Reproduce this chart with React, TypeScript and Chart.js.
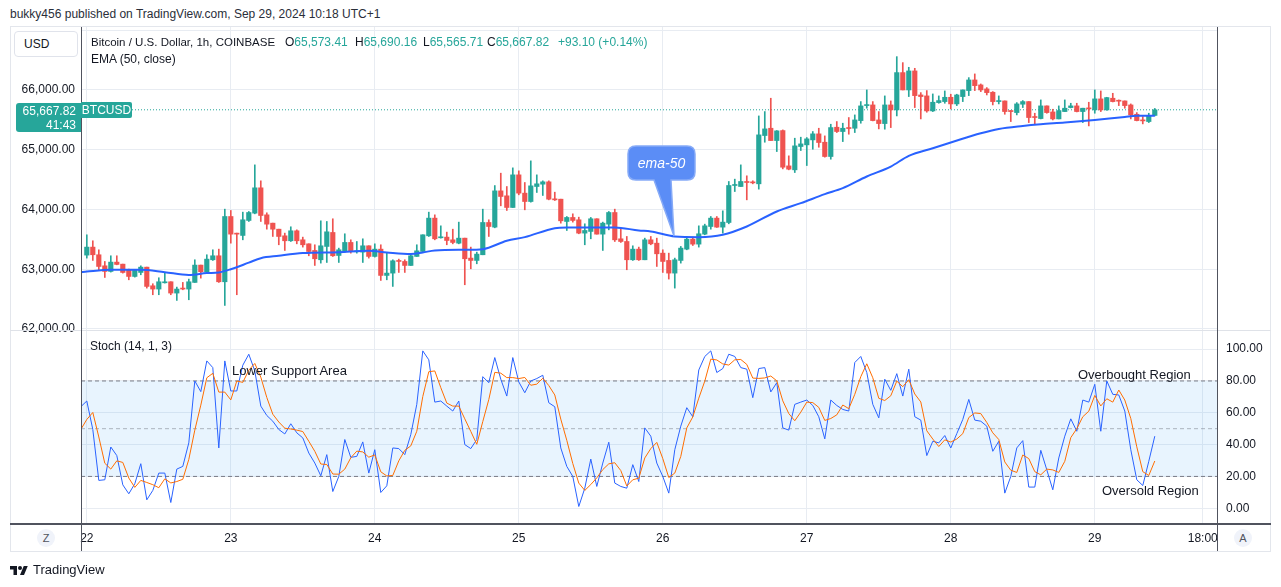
import React, { useEffect, useRef } from "react";
import { Chart, registerables } from "chart.js";

Chart.register(...registerables);

const FONT = "'Liberation Sans', Arial, Helvetica, sans-serif";

// Hourly BTC/USD candles, index 0 = Sep 22 00:00 (UTC+1)
const opens = [
  63236, 63370, 63242, 63057, 62963, 63119, 63085, 62991, 62879, 62946,
  63035, 62723, 62668, 62773, 62790, 62601, 62679, 62668, 62779, 63069,
  62957, 63158, 63225, 62790, 63882, 63598, 63565, 63816, 63938, 64362,
  63910, 63771, 63670, 63559, 63476, 63643, 63492, 63425, 63314, 63158,
  63381, 63615, 63230, 63297, 63448, 63292, 63286, 63392, 63214, 63336,
  62896, 62935, 63141, 63130, 63063, 63214, 63297, 63559, 63855, 63526,
  63537, 63492, 63436, 63520, 63186, 63147, 63242, 63782, 63704, 64311,
  64228, 64033, 64579, 64273, 64133, 64384, 64423, 64462, 64172, 64172,
  63799, 63866, 63827, 63604, 63632, 63844, 63587, 63754, 63949, 63509,
  63464, 63158, 63336, 63158, 63492, 63436, 63269, 63147, 62935, 63147,
  63336, 63503, 63420, 63587, 63715, 63855, 63704, 63782, 64401, 64384,
  64468, 64457, 64429, 65237, 65359, 65153, 65320, 64729, 64663, 65053,
  65081, 65164, 65265, 65125, 64886, 65376, 65304, 65365, 65359, 65487,
  65738, 65749, 65498, 65437, 65749, 65666, 66290, 66000, 66318, 65916,
  65900, 65649, 65788, 65805, 65877, 65766, 65889, 65989, 66167, 66084,
  66017, 65961, 65805, 65816, 65649, 65621, 65761, 65805, 65549, 65521,
  65733, 65632, 65515, 65638, 65705, 65733, 65638, 65694, 65666, 65850,
  65666, 65861, 65822, 65816, 65749, 65593, 65498, 65471, 65573.41,
];
const highs = [
  63576, 63476, 63325, 63130, 63225, 63225, 63085, 63002, 62991, 63057,
  63035, 62757, 62857, 62935, 62790, 62701, 62779, 62835, 63158, 63069,
  63242, 63325, 63336, 64005, 63983, 63604, 63955, 63966, 64746, 64479,
  63944, 63771, 63670, 63604, 63710, 63659, 63537, 63425, 63409, 63810,
  63799, 63844, 63353, 63593, 63492, 63464, 63509, 63392, 63425, 63409,
  63269, 63158, 63169, 63158, 63242, 63409, 63576, 63955, 63910, 63726,
  63621, 63670, 63788, 63520, 63370, 63286, 64005, 63827, 64400, 64607,
  64384, 64696, 64646, 64451, 64813, 64579, 64479, 64479, 64289, 64172,
  63882, 63927, 63871, 63760, 63866, 63844, 63788, 63966, 64005, 63670,
  63548, 63392, 63370, 63520, 63548, 63520, 63325, 63269, 63186, 63381,
  63548, 63537, 63726, 63754, 63882, 63882, 63977, 64468, 64507, 64746,
  64563, 64480, 65565, 65638, 65861, 65320, 65331, 64897, 65192, 65209,
  65203, 65304, 65359, 65231, 65426, 65471, 65443, 65538, 65582, 65805,
  66000, 65805, 65638, 65900, 65816, 66557, 66457, 66379, 66362, 65955,
  65989, 65933, 65900, 65983, 65928, 65928, 66000, 66206, 66268, 66100,
  66039, 65972, 65900, 65816, 65655, 65788, 65822, 65805, 65610, 65833,
  65733, 65677, 65733, 65833, 65777, 65777, 65694, 65794, 66000, 65983,
  65877, 65944, 65833, 65816, 65766, 65621, 65554, 65610, 65690.16,
];
const lows = [
  63186, 63147, 62991, 62862, 62952, 63074, 62935, 62823, 62868, 62907,
  62684, 62573, 62573, 62768, 62573, 62478, 62656, 62489, 62779, 62851,
  62935, 63147, 62779, 62394, 63436, 62573, 63492, 63799, 63927, 63799,
  63670, 63548, 63409, 63314, 63464, 63425, 63370, 63225, 63063, 63102,
  63113, 63214, 63113, 63286, 63269, 63269, 63113, 63186, 63203, 62812,
  62823, 62712, 62946, 62946, 63063, 63214, 63297, 63548, 63492, 63520,
  63409, 63425, 63425, 62740, 63007, 63091, 63242, 63548, 63693, 64061,
  63983, 64033, 64245, 63994, 64122, 64284, 64234, 64161, 64150, 63771,
  63648, 63788, 63593, 63409, 63509, 63587, 63314, 63659, 63464, 63448,
  62991, 63147, 63147, 63158, 63409, 63046, 62946, 62835, 62684, 63102,
  63325, 63397, 63370, 63576, 63670, 63699, 63604, 63760, 64300, 64384,
  64161, 64429, 64340, 65125, 65153, 64969, 64679, 64663, 64618, 64986,
  64735, 65008, 65041, 64875, 64841, 65287, 65136, 65259, 65287, 65443,
  65694, 65482, 65348, 65343, 65370, 65565, 66000, 65889, 65705, 65515,
  65627, 65638, 65777, 65777, 65682, 65738, 65805, 65905, 65989, 65972,
  65916, 65749, 65766, 65593, 65471, 65582, 65705, 65454, 65432, 65515,
  65610, 65498, 65515, 65638, 65699, 65632, 65454, 65398, 65610, 65638,
  65660, 65799, 65738, 65694, 65515, 65482, 65432, 65454, 65565.71,
];
const closes = [
  63370, 63242, 63046, 62963, 63119, 63080, 62946, 62879, 62980, 63035,
  62712, 62668, 62790, 62790, 62601, 62668, 62668, 62790, 63069, 62957,
  63169, 63225, 62790, 63882, 63587, 63587, 63827, 63949, 64362, 63899,
  63754, 63670, 63548, 63476, 63643, 63476, 63409, 63297, 63175, 63392,
  63626, 63225, 63325, 63448, 63297, 63308, 63392, 63214, 63336, 62896,
  62935, 63141, 63130, 63063, 63225, 63308, 63576, 63855, 63509, 63537,
  63481, 63448, 63520, 63175, 63147, 63253, 63782, 63715, 64311, 64217,
  64033, 64579, 64273, 64133, 64395, 64429, 64462, 64172, 64161, 63810,
  63866, 63816, 63604, 63648, 63844, 63587, 63771, 63949, 63492, 63464,
  63158, 63336, 63158, 63492, 63425, 63258, 63130, 62935, 63158, 63353,
  63503, 63420, 63593, 63726, 63855, 63704, 63788, 64401, 64412, 64468,
  64451, 64445, 65248, 65348, 65153, 65315, 64707, 64674, 65064, 65097,
  65181, 65265, 65120, 64886, 65370, 65304, 65359, 65354, 65498, 65733,
  65749, 65487, 65437, 65749, 65666, 66290, 66000, 66318, 65905, 65889,
  65649, 65794, 65822, 65877, 65766, 65916, 66000, 66167, 66072, 66000,
  65955, 65805, 65816, 65638, 65638, 65766, 65805, 65538, 65538, 65733,
  65621, 65515, 65655, 65694, 65733, 65638, 65694, 65683, 65850, 65666,
  65872, 65805, 65811, 65738, 65582, 65487, 65482, 65575, 65667.82,
];

// EMA(50) at sample hours
const emaHours = [
  -1, 0, 4, 9, 13, 17, 20, 22, 24, 27, 29, 32, 36, 42, 47, 50, 54, 56, 58, 63,
  66, 70, 73, 78, 80, 84, 88, 92, 94, 98, 102, 106, 110, 115, 119, 123, 126,
  130, 134, 137, 141, 144, 149, 152, 156, 159, 163, 168, 173, 175, 178,
];
const emaValues = [
  62950, 62960, 62990, 62990, 62950, 62905, 62935, 62946, 63000, 63110, 63185,
  63225, 63270, 63286, 63308, 63280, 63253, 63280, 63314, 63325, 63336, 63476,
  63537, 63687, 63699, 63699, 63699, 63648, 63632, 63548, 63537, 63576, 63715,
  63966, 64105, 64256, 64356, 64551, 64718, 64897, 65025, 65120, 65276, 65348,
  65398, 65426, 65454, 65498, 65549, 65566, 65566,
];

// Stochastic (14, 1, 3), first value at hour -1
const stochStartHour = -1;
const stochK = [
  63.8, 67.4, 49.5, 17.5, 17.9, 38.5, 33.1, 14.7, 9.1, 15.4,
  28.0, 5.3, 11.2, 22.1, 22.1, 3.6, 24.6, 26.3, 41.1, 80.0,
  73.3, 92.6, 88.4, 37.9, 92.6, 73.7, 73.7, 89.9, 96.8, 86.3,
  64.2, 58.3, 54.7, 49.5, 46.7, 53.1, 47.4, 44.2, 34.7, 28.4,
  20.4, 33.7, 10.5, 20.0, 43.2, 32.0, 32.6, 41.7, 22.1, 36.8,
  9.9, 14.1, 37.9, 37.5, 33.7, 46.3, 65.3, 98.9, 93.3, 66.7,
  67.4, 64.2, 61.1, 67.4, 40.0, 37.5, 43.2, 82.7, 78.9, 94.7,
  81.1, 70.5, 94.7, 79.4, 72.6, 80.0, 81.5, 83.6, 66.3, 63.8,
  37.9, 26.3, 20.0, 1.1, 12.6, 30.9, 13.7, 28.4, 41.5, 15.8,
  13.7, 12.6, 27.4, 16.8, 50.5, 45.3, 28.4, 20.0, 9.5, 36.8,
  51.6, 63.2, 57.5, 86.9, 95.4, 98.9, 85.3, 87.8, 96.8, 95.4,
  88.4, 87.4, 69.5, 87.8, 88.4, 73.1, 78.9, 50.5, 49.1, 65.3,
  66.7, 68.0, 64.6, 57.5, 43.6, 68.0, 64.6, 62.1, 61.1, 91.6,
  95.4, 85.3, 65.3, 56.8, 81.1, 74.1, 84.6, 70.5, 87.4, 57.5,
  55.4, 33.1, 42.1, 41.1, 45.7, 37.9, 46.9, 55.8, 68.4, 55.4,
  54.7, 51.6, 35.8, 42.1, 9.5, 20.0, 37.9, 42.5, 13.3, 13.3,
  36.4, 24.2, 11.6, 31.6, 45.3, 56.2, 48.4, 68.0, 66.7, 77.9,
  48.4, 80.0, 71.6, 71.2, 61.1, 36.8, 17.9, 14.3, 29.5, 45.3,
];
const stochD = [
  49.5, 55.8, 60.2, 44.8, 28.3, 24.6, 29.8, 28.8, 19.0, 13.1,
  17.5, 16.2, 14.8, 12.9, 18.5, 15.9, 16.8, 18.2, 30.7, 49.1,
  64.8, 82.0, 84.8, 73.0, 73.0, 68.1, 80.0, 79.1, 86.8, 91.0,
  82.4, 69.6, 59.1, 54.2, 50.3, 49.8, 49.1, 48.2, 42.1, 35.8,
  27.8, 27.5, 21.5, 21.4, 24.6, 31.7, 35.9, 35.4, 32.1, 33.5,
  22.9, 20.3, 20.6, 29.8, 36.4, 39.2, 48.4, 70.2, 85.8, 86.3,
  75.8, 66.1, 64.2, 64.2, 56.2, 48.3, 40.2, 54.5, 68.3, 85.4,
  84.9, 82.1, 82.1, 81.5, 82.2, 77.3, 78.0, 81.7, 77.1, 71.2,
  56.0, 42.7, 28.1, 15.8, 11.2, 14.9, 19.1, 24.3, 27.9, 28.6,
  23.7, 14.0, 17.9, 18.9, 31.6, 37.5, 41.4, 31.2, 19.3, 22.1,
  32.6, 50.5, 57.4, 69.2, 79.9, 93.7, 93.2, 90.7, 90.0, 93.3,
  93.5, 90.4, 81.8, 81.6, 81.9, 83.1, 80.1, 67.5, 59.5, 55.0,
  60.4, 66.7, 66.4, 63.4, 55.2, 56.4, 58.7, 64.9, 62.6, 71.6,
  82.7, 90.8, 82.0, 69.1, 67.7, 70.7, 79.9, 76.4, 80.8, 71.8,
  66.8, 48.7, 43.5, 38.8, 43.0, 41.6, 43.5, 46.9, 57.0, 59.9,
  59.5, 53.9, 47.4, 43.2, 29.1, 23.9, 22.5, 33.5, 31.2, 23.0,
  21.0, 24.6, 24.1, 22.5, 29.5, 44.4, 50.0, 57.5, 61.0, 70.9,
  64.3, 68.8, 66.7, 74.3, 68.0, 56.4, 38.6, 23.0, 20.6, 29.7,
];

const dayTickHours = [0, 24, 48, 72, 96, 120, 144, 168, 186];
const dayTickLabels = ["22", "23", "24", "25", "26", "27", "28", "29", "18:00"];
const priceTicks = [62000, 63000, 64000, 65000, 66000, 67000];
const stochTicks = [0, 20, 40, 60, 80, 100];
const lastClose = 65667.82;

const X_MIN = -0.967;
const X_MAX = 188.37;
const GRID = "#e8ecf2";
const UP = "#26a69a";
const DOWN = "#ef5350";
const TEXT = "#131722";

function Txt(props: {
  x: number;
  cy: number;
  size: number;
  children: React.ReactNode;
  style?: React.CSSProperties;
}) {
  const lh = Math.round(props.size * 1.25);
  return (
    <div
      style={{
        position: "absolute",
        left: props.x,
        top: props.cy - lh / 2,
        height: lh,
        lineHeight: lh + "px",
        fontSize: props.size,
        whiteSpace: "nowrap",
        color: TEXT,
        ...props.style,
      }}
    >
      {props.children}
    </div>
  );
}

export default function App() {
  const priceRef = useRef<HTMLCanvasElement>(null);
  const stochRef = useRef<HTMLCanvasElement>(null);

  useEffect(() => {
    document.body.style.margin = "0";
    Chart.defaults.font.family = FONT;
    Chart.defaults.font.size = 12;
    Chart.defaults.color = TEXT;

    const cols = closes.map((c, i) => (c >= opens[i] ? UP : DOWN));

    const dayTicks = (s: any) => {
      s.ticks = dayTickHours.map((v) => ({ value: v }));
    };

    const price = new Chart(priceRef.current as HTMLCanvasElement, {
      type: "bar",
      data: {
        datasets: [
          {
            type: "line",
            data: emaHours.map((x, i) => ({ x, y: emaValues[i] })),
            borderColor: "#2962ff",
            borderWidth: 2,
            pointRadius: 0,
            fill: false,
            cubicInterpolationMode: "monotone",
            order: 0,
          } as any,
          {
            type: "line",
            data: [
              { x: X_MIN, y: lastClose },
              { x: X_MAX, y: lastClose },
            ],
            borderColor: UP,
            borderWidth: 1,
            borderDash: [1, 2],
            pointRadius: 0,
            fill: false,
            order: 3,
          } as any,
          {
            type: "bar",
            data: opens.map((o, i) => ({ x: i, y: [o, closes[i]] })),
            backgroundColor: cols,
            barThickness: 4.5,
            minBarLength: 1,
            grouped: false,
            order: 1,
          } as any,
          {
            type: "bar",
            data: lows.map((l, i) => ({ x: i, y: [l, highs[i]] })),
            backgroundColor: cols,
            barThickness: 1,
            grouped: false,
            order: 2,
          } as any,
        ],
      },
      options: {
        responsive: false,
        animation: false,
        events: [],
        layout: { padding: { left: 0, right: 0, top: 0, bottom: 7 } },
        plugins: { legend: { display: false }, tooltip: { enabled: false } },
        scales: {
          x: {
            type: "linear",
            min: X_MIN,
            max: X_MAX,
            offset: false,
            afterBuildTicks: dayTicks,
            ticks: { display: false },
            grid: { color: GRID, drawTicks: false, offset: false },
            border: { display: false },
            afterFit: (s: any) => {
              s.height = 0;
              s.paddingLeft = 0;
              s.paddingRight = 0;
            },
          },
          y: {
            type: "linear",
            position: "left",
            min: 61983,
            max: 67053,
            afterBuildTicks: (s: any) => {
              s.ticks = priceTicks.map((v) => ({ value: v }));
            },
            ticks: {
              padding: 6,
              color: TEXT,
              callback: (v: any) =>
                Number(v) >= 67000
                  ? ""
                  : Number(v).toLocaleString("en-US", {
                      minimumFractionDigits: 2,
                      maximumFractionDigits: 2,
                    }),
            },
            grid: { color: GRID, drawTicks: false },
            border: { display: false },
            afterFit: (s: any) => {
              s.width = 71;
              s.paddingTop = 0;
              s.paddingBottom = 0;
            },
          },
        },
      } as any,
    });

    const band = (v: number) => [
      { x: X_MIN, y: v },
      { x: X_MAX, y: v },
    ];

    const stoch = new Chart(stochRef.current as HTMLCanvasElement, {
      type: "line",
      data: {
        datasets: [
          {
            data: stochD.map((y, i) => ({ x: i + stochStartHour, y })),
            borderColor: "#ff6d00",
            borderWidth: 1,
            pointRadius: 0,
            fill: false,
            order: 0,
          },
          {
            data: stochK.map((y, i) => ({ x: i + stochStartHour, y })),
            borderColor: "#2962ff",
            borderWidth: 1,
            pointRadius: 0,
            fill: false,
            order: 1,
          },
          {
            data: band(80),
            borderColor: "#787b86",
            borderWidth: 1,
            borderDash: [4, 3],
            pointRadius: 0,
            fill: { value: 20 },
            backgroundColor: "rgba(33,150,243,0.1)",
            order: 4,
          },
          {
            data: band(50),
            borderColor: "rgba(120,123,134,0.55)",
            borderWidth: 1,
            borderDash: [4, 3],
            pointRadius: 0,
            fill: false,
            order: 3,
          },
          {
            data: band(20),
            borderColor: "#787b86",
            borderWidth: 1,
            borderDash: [4, 3],
            pointRadius: 0,
            fill: false,
            order: 3,
          },
        ] as any,
      },
      options: {
        responsive: false,
        animation: false,
        events: [],
        layout: { padding: { left: 71, right: 0, top: 1, bottom: 0 } },
        plugins: { legend: { display: false }, tooltip: { enabled: false } },
        scales: {
          x: {
            type: "linear",
            min: X_MIN,
            max: X_MAX,
            offset: false,
            afterBuildTicks: dayTicks,
            ticks: {
              padding: 7,
              autoSkip: false,
              maxRotation: 0,
              color: TEXT,
              callback: (_v: any, i: number) => dayTickLabels[i] ?? "",
            },
            grid: { color: GRID, drawTicks: false, offset: false },
            border: { display: false },
            afterFit: (s: any) => {
              s.height = 27;
              s.paddingLeft = 0;
              s.paddingRight = 0;
            },
          },
          y: {
            type: "linear",
            position: "right",
            min: -9.9,
            max: 111.4,
            afterBuildTicks: (s: any) => {
              s.ticks = stochTicks.map((v) => ({ value: v }));
            },
            ticks: {
              padding: 9,
              color: TEXT,
              callback: (v: any) => Number(v).toFixed(2),
            },
            grid: { color: GRID, drawTicks: false },
            border: { display: false },
            afterFit: (s: any) => {
              s.width = 54;
              s.paddingTop = 0;
              s.paddingBottom = 0;
            },
          },
        },
      } as any,
    });

    return () => {
      price.destroy();
      stoch.destroy();
    };
  }, []);

  const teal = { color: UP };

  return (
    <div
      style={{
        position: "absolute",
        left: 0,
        top: 0,
        width: 1281,
        height: 587,
        background: "#ffffff",
        overflow: "hidden",
        fontFamily: FONT,
        color: TEXT,
      }}
    >
      <Txt x={10} cy={14} size={12} style={{ color: "#2a2e39" }}>
        bukky456 published on TradingView.com, Sep 29, 2024 10:18 UTC+1
      </Txt>

      {/* outer frame */}
      <div
        style={{
          position: "absolute",
          left: 10,
          top: 26,
          width: 1261,
          height: 526,
          border: "1.5px solid #e3e6ec",
          boxSizing: "border-box",
        }}
      />

      <canvas
        ref={priceRef}
        width={1207}
        height={310}
        style={{ position: "absolute", left: 10, top: 27, width: 1207, height: 310 }}
      />
      <canvas
        ref={stochRef}
        width={1261}
        height={221}
        style={{ position: "absolute", left: 10, top: 330, width: 1261, height: 221 }}
      />

      {/* pane separator and axis lines */}
      <div style={{ position: "absolute", left: 10, top: 330, width: 1261, height: 1, background: "#dfe2e8" }} />
      <div style={{ position: "absolute", left: 10, top: 523, width: 1261, height: 1.5, background: "#50535e" }} />
      <div style={{ position: "absolute", left: 80.5, top: 27, width: 1, height: 524, background: "#50535e" }} />
      <div style={{ position: "absolute", left: 1216.5, top: 27, width: 1, height: 524, background: "#50535e" }} />

      {/* USD box */}
      <div
        style={{
          position: "absolute",
          left: 14,
          top: 31,
          width: 64,
          height: 26,
          border: "1px solid #e0e3eb",
          borderRadius: 4,
          boxSizing: "border-box",
          background: "#fff",
          fontSize: 12,
          lineHeight: "24px",
          paddingLeft: 9,
          color: TEXT,
        }}
      >
        USD
      </div>

      {/* legend */}
      <Txt x={91} cy={42} size={11.5}>Bitcoin / U.S. Dollar, 1h, COINBASE</Txt>
      <Txt x={285} cy={42} size={12}>
        O<span style={teal}>65,573.41</span>
      </Txt>
      <Txt x={355} cy={42} size={12}>
        H<span style={teal}>65,690.16</span>
      </Txt>
      <Txt x={423} cy={42} size={12}>
        L<span style={teal}>65,565.71</span>
      </Txt>
      <Txt x={487} cy={42} size={12}>
        C<span style={teal}>65,667.82</span>
      </Txt>
      <Txt x={558} cy={42} size={12} style={teal}>+93.10 (+0.14%)</Txt>
      <Txt x={91} cy={59} size={12}>EMA (50, close)</Txt>

      {/* last price label */}
      <div
        style={{
          position: "absolute",
          left: 16,
          top: 103,
          width: 65,
          height: 29,
          background: UP,
          borderRadius: "3px 0 0 3px",
          color: "#fff",
          fontSize: 12,
          textAlign: "right",
          paddingRight: 5,
          boxSizing: "border-box",
          lineHeight: "14px",
          paddingTop: 1,
        }}
      >
        <div>65,667.82</div>
        <div>41:43</div>
      </div>
      <div
        style={{
          position: "absolute",
          left: 81,
          top: 102,
          width: 51,
          height: 16,
          background: UP,
          borderRadius: "0 2px 2px 0",
          color: "#fff",
          fontSize: 12,
          lineHeight: "16px",
          textAlign: "center",
        }}
      >
        BTCUSD
      </div>

      {/* stoch pane texts */}
      <Txt x={90} cy={346} size={12}>Stoch (14, 1, 3)</Txt>
      <Txt x={232} cy={371} size={13}>Lower Support Area</Txt>
      <Txt x={1078} cy={375} size={13}>Overbought Region</Txt>
      <Txt x={1102} cy={491} size={13}>Oversold Region</Txt>

      {/* ema-50 callout */}
      <svg
        width={1281}
        height={587}
        style={{ position: "absolute", left: 0, top: 0, pointerEvents: "none" }}
      >
        <path
          d="M636,146 H687 Q695,146 695,154 V172 Q695,180 687,180 H671 L674,236 L654,180 H636 Q628,180 628,172 V154 Q628,146 636,146 Z"
          fill="#5b8df6"
          stroke="#86aaf7"
          strokeWidth={1.5}
        />
        <text
          x={661.5}
          y={168}
          textAnchor="middle"
          fill="#ffffff"
          fontStyle="italic"
          fontSize={14}
          fontFamily={FONT}
        >
          ema-50
        </text>
        {/* TradingView logo mark */}
        <g transform="translate(10,564) scale(0.5)" fill="#131722">
          <path d="M14 22H7V11H0V4h14v18zM28 22h-8l7.5-18h8L28 22z" />
          <circle cx="20" cy="8" r="4" />
        </g>
      </svg>

      {/* time axis corner buttons */}
      <div
        style={{
          position: "absolute",
          left: 37,
          top: 529,
          width: 18,
          height: 18,
          borderRadius: 9,
          background: "#f0f3fa",
          fontSize: 11,
          lineHeight: "18px",
          textAlign: "center",
          color: "#50535e",
        }}
      >
        Z
      </div>
      <div
        style={{
          position: "absolute",
          left: 1234,
          top: 529,
          width: 18,
          height: 18,
          borderRadius: 9,
          background: "#f0f3fa",
          fontSize: 11,
          lineHeight: "18px",
          textAlign: "center",
          color: "#50535e",
        }}
      >
        A
      </div>

      <Txt x={33} cy={570} size={13}>TradingView</Txt>
    </div>
  );
}
